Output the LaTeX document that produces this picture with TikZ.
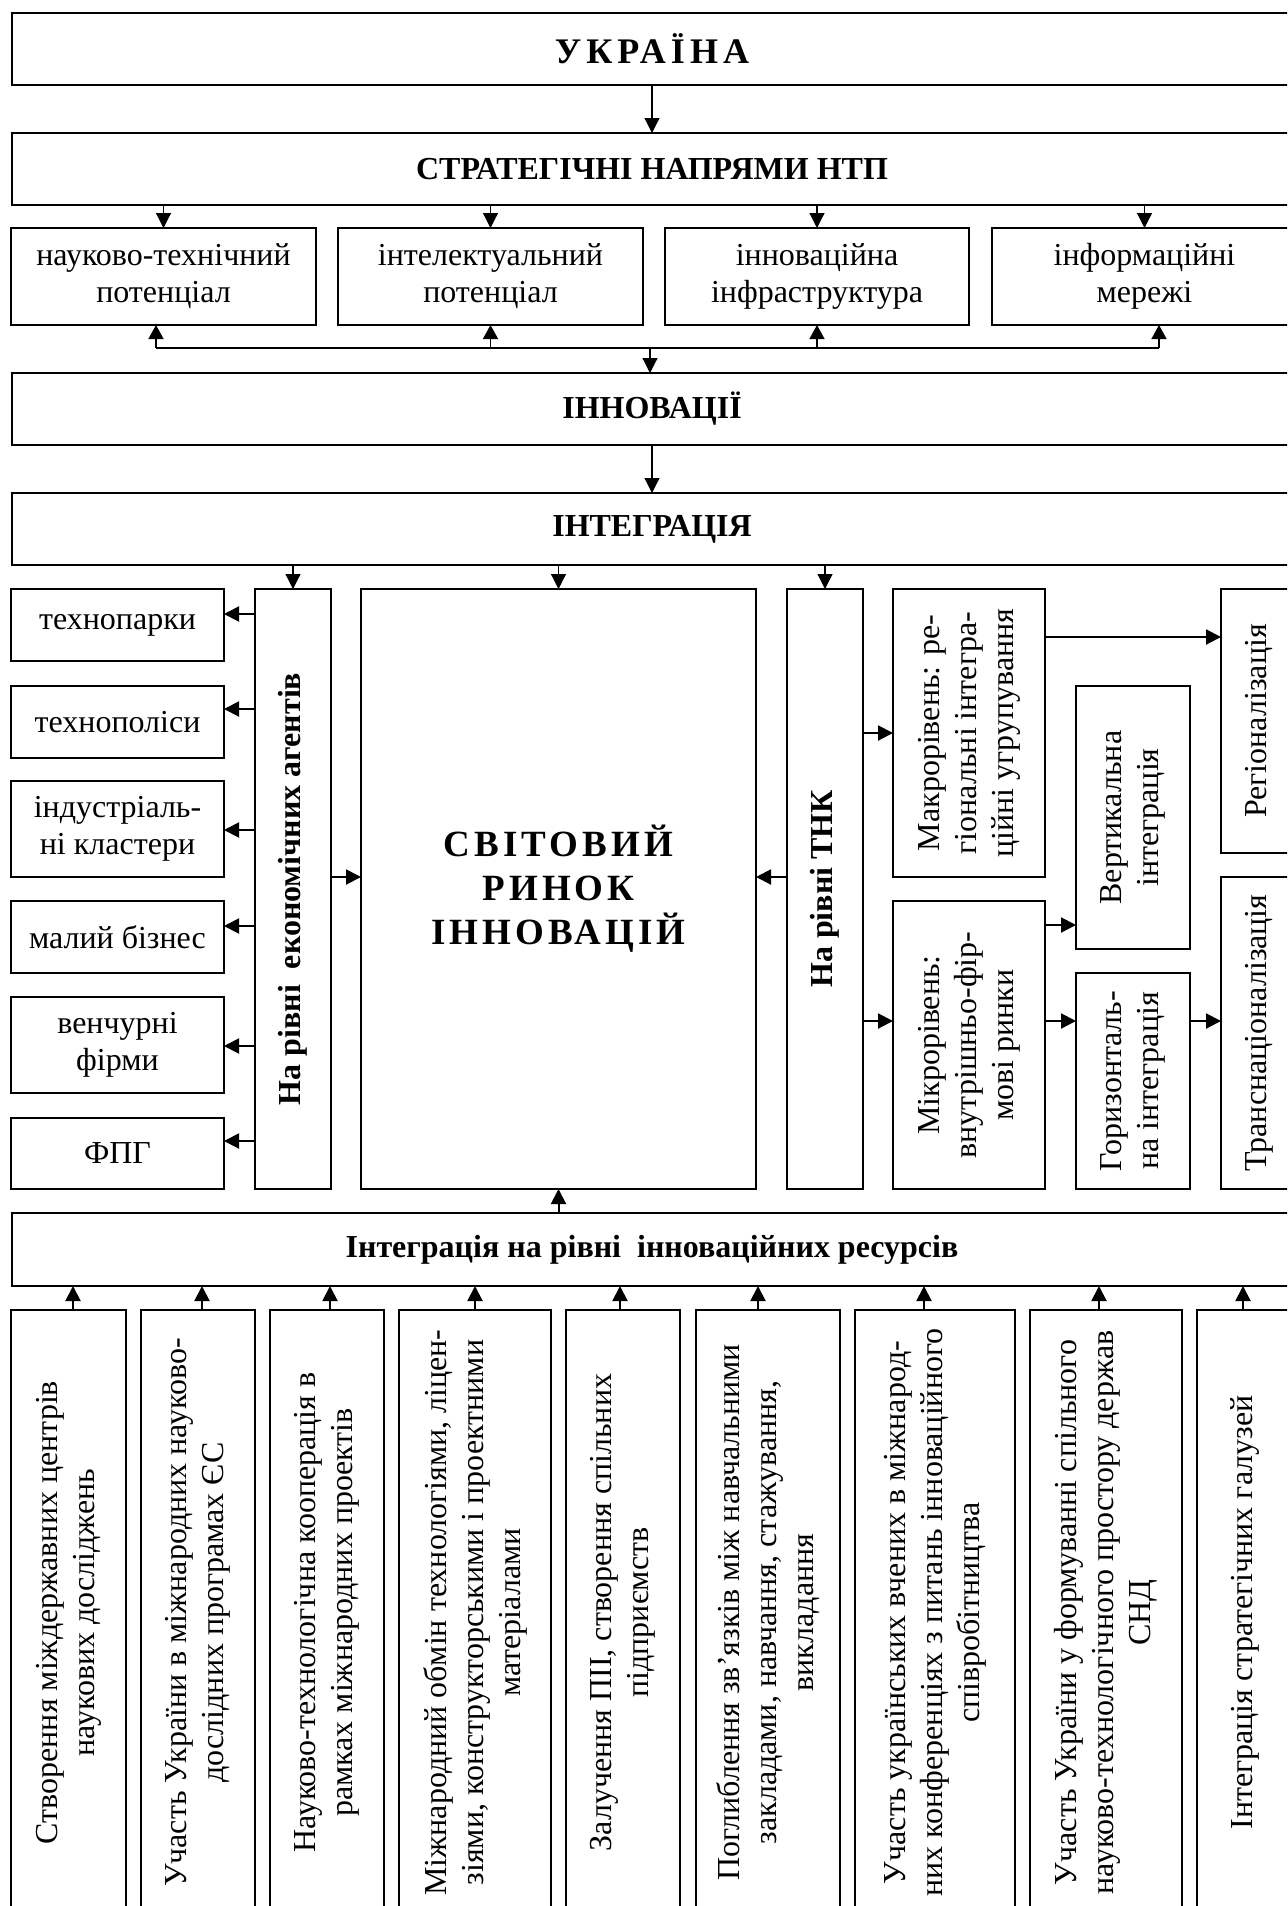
\documentclass[tikz,border=0pt]{standalone}
\usepackage{fontspec}
\setmainfont{Liberation Serif}
\newfontfamily\spacedfont[LetterSpace=14]{Liberation Serif}
\newfontfamily\spacedfontb[LetterSpace=11]{Liberation Serif}
\usetikzlibrary{arrows.meta}
% [options]{name}{x1}{y1}{x2}{y2}{text}
\newcommand{\mkbox}[7][]{\node[box,#1,minimum width={(#5-#3)*0.5pt},minimum height={(#6-#4)*0.5pt}] (#2) at ({(#3+#5)/2},{(#4+#6)/2}) {#7};}
\begin{document}
\begin{tikzpicture}[x=0.5pt,y=-0.5pt,
  box/.style={draw,line width=0.8pt,inner sep=0pt,outer sep=0pt,align=center,font=\fontsize{16}{18.5}\selectfont},
  rtxt/.style={rotate=90,align=center,font=\fontsize{16}{18.5}\selectfont,inner sep=0pt},
  rbold/.style={rotate=90,align=center,font=\fontsize{16}{18.5}\selectfont\bfseries,inner sep=0pt},
  hdr/.style={font=\fontsize{16}{18.5}\selectfont\bfseries},
  plain/.style={line width=0.7pt},
  arr/.style={-{Triangle[length=7.5pt,width=7.5pt]},line width=0.6pt},
  uarr/.style={-{Triangle[length=7pt,width=7.5pt]},line width=0.7pt},
  sarr/.style={-{Triangle[length=7.5pt,width=7.5pt]},line width=1pt},
]
\useasboundingbox (0,0) rectangle (1287,1906);
\clip (0,0) rectangle (1287,1906);
% top level
\mkbox[font=\spacedfont\fontsize{18}{20}\selectfont\bfseries]{ukr}{12}{13}{1292}{85}{УКРАЇНА}
\mkbox[hdr]{str}{12}{133}{1292}{205}{СТРАТЕГІЧНІ НАПРЯМИ НТП}
\mkbox{i1}{11}{228}{316}{325}{науково-технічний\\потенціал}
\mkbox{i2}{338}{228}{643}{325}{інтелектуальний\\потенціал}
\mkbox{i3}{665}{228}{969}{325}{інноваційна\\інфраструктура}
\mkbox{i4}{992}{228}{1297}{325}{інформаційні\\мережі}
\mkbox[hdr]{inn}{12}{373}{1292}{445}{ІННОВАЦІЇ}
\mkbox[hdr]{intg}{12}{493}{1292}{565}{ІНТЕГРАЦІЯ}
% middle section
\mkbox{tp}{11}{589}{224}{661}{технопарки}
\mkbox{tpl}{11}{686}{224}{758}{технополіси}
\mkbox{ind}{11}{781}{224}{877}{індустріаль-\\ні кластери}
\mkbox{mb}{11}{901}{224}{973}{малий бізнес}
\mkbox{ven}{11}{997}{224}{1093}{венчурні\\фірми}
\mkbox{fpg}{11}{1118}{224}{1189}{ФПГ}
\mkbox{agent}{255}{589}{331}{1189}{}
\node[rbold] at (agent.center) {На рівні\ \ економічних агентів};
\mkbox[font=\spacedfontb\fontsize{18.5}{22}\selectfont\bfseries]{cen}{361}{589}{756}{1189}{СВІТОВИЙ\\РИНОК\\ІННОВАЦІЙ}
\mkbox{tnk}{787}{589}{863}{1189}{}
\node[rbold] at (tnk.center) {На рівні ТНК};
\mkbox{makro}{893}{589}{1045}{877}{}
\node[rtxt] at (makro.center) {Макрорівень: ре-\\гіональні інтегра-\\ційні угрупування};
\mkbox{mikro}{893}{901}{1045}{1189}{}
\node[rtxt] at (mikro.center) {Мікрорівень:\\внутрішньо-фір-\\мові ринки};
\mkbox{vert}{1076}{686}{1190}{949}{}
\node[rtxt] at (vert.center) {Вертикальна\\інтеграція};
\mkbox{hor}{1076}{973}{1190}{1189}{}
\node[rtxt] at (hor.center) {Горизонталь-\\на інтеграція};
\mkbox{reg}{1221}{589}{1297}{853}{}
\node[rtxt] at (reg.center) {Регіоналізація};
\mkbox{trans}{1221}{877}{1297}{1189}{}
\node[rtxt] at (trans.center) {Транснаціоналізація};
% resources
\mkbox[hdr]{res}{12}{1213}{1292}{1286}{Інтеграція на рівні\ \ інноваційних ресурсів}
\mkbox{b1}{11}{1310}{126}{1915}{}
\node[rtxt] at (b1.center) {Створення міждержавних центрів\\наукових досліджень};
\mkbox{b2}{141}{1310}{255}{1915}{}
\node[rtxt] at (b2.center) {Участь України в міжнародних науково-\\дослідних програмах ЄС};
\mkbox{b3}{270}{1310}{384}{1915}{}
\node[rtxt] at (b3.center) {Науково-технологічна кооперація в\\рамках міжнародних проектів};
\mkbox{b4}{399}{1310}{551}{1915}{}
\node[rtxt] at (b4.center) {Міжнародний обмін технологіями, ліцен-\\зіями, конструкторськими і проектними\\матеріалами};
\mkbox{b5}{566}{1310}{680}{1915}{}
\node[rtxt] at (b5.center) {Залучення ПІІ, створення спільних\\підприємств};
\mkbox{b6}{696}{1310}{840}{1915}{}
\node[rtxt] at (b6.center) {Поглиблення зв’язків між навчальними\\закладами, навчання, стажування,\\викладання};
\mkbox{b7}{855}{1310}{1015}{1915}{}
\node[rtxt] at (b7.center) {Участь українських вчених в міжнарод-\\них конференціях з питань інноваційного\\співробітництва};
\mkbox{b8}{1030}{1310}{1182}{1915}{}
\node[rtxt] at (b8.center) {Участь України у формуванні спільного\\науково-технологічного простору держав\\СНД};
\mkbox{b9}{1197}{1310}{1293}{1915}{}
\node[rtxt] at (b9.center) {Інтеграція стратегічних галузей};
% connectors top
\draw[arr] (ukr.south) -- (str.north);
\foreach \n in {i1,i2,i3,i4} \draw[arr] (\n.north |- str.south) -- (\n.north);
\coordinate (jL) at (156,348);
\coordinate (jR) at (1159,348);
\coordinate (jM) at (650,348);
\draw[plain] (jL) -- (jR);
\draw[uarr] (jL) -- (jL |- i1.south);
\draw[uarr] (i2.south |- jL) -- (i2.south);
\draw[uarr] (i3.south |- jL) -- (i3.south);
\draw[uarr] (jR) -- (jR |- i4.south);
\draw[arr] (jM) -- (jM |- inn.north);
\draw[arr] (inn.south) -- (intg.north);
\foreach \n in {agent,cen,tnk} \draw[arr] (\n.north |- intg.south) -- (\n.north);
% middle connectors
\foreach \n/\y in {tp/614,tpl/709,ind/830,mb/926,ven/1046,fpg/1141}
  \draw[sarr] (agent.west |- 0,\y) -- (\n.east |- 0,\y);
\draw[sarr] (agent.east |- 0,877) -- (cen.west |- 0,877);
\draw[sarr] (tnk.west |- 0,877) -- (cen.east |- 0,877);
\draw[sarr] (tnk.east |- 0,733) -- (makro.west |- 0,733);
\draw[sarr] (tnk.east |- 0,1021) -- (mikro.west |- 0,1021);
\draw[sarr] (makro.east |- 0,637) -- (reg.west |- 0,637);
\draw[sarr] (mikro.east |- 0,925) -- (vert.west |- 0,925);
\draw[sarr] (mikro.east |- 0,1021) -- (hor.west |- 0,1021);
\draw[sarr] (hor.east |- 0,1021) -- (trans.west |- 0,1021);
% bottom connectors
\draw[sarr] (res.north -| cen.south) -- (cen.south);
\foreach \n/\x in {b1/73,b2/202,b3/330,b4/475,b5/620,b6/758,b7/924,b8/1099,b9/1243}
  \draw[sarr] (\n.north -| \x,0) -- (res.south -| \x,0);
\end{tikzpicture}
\end{document}
